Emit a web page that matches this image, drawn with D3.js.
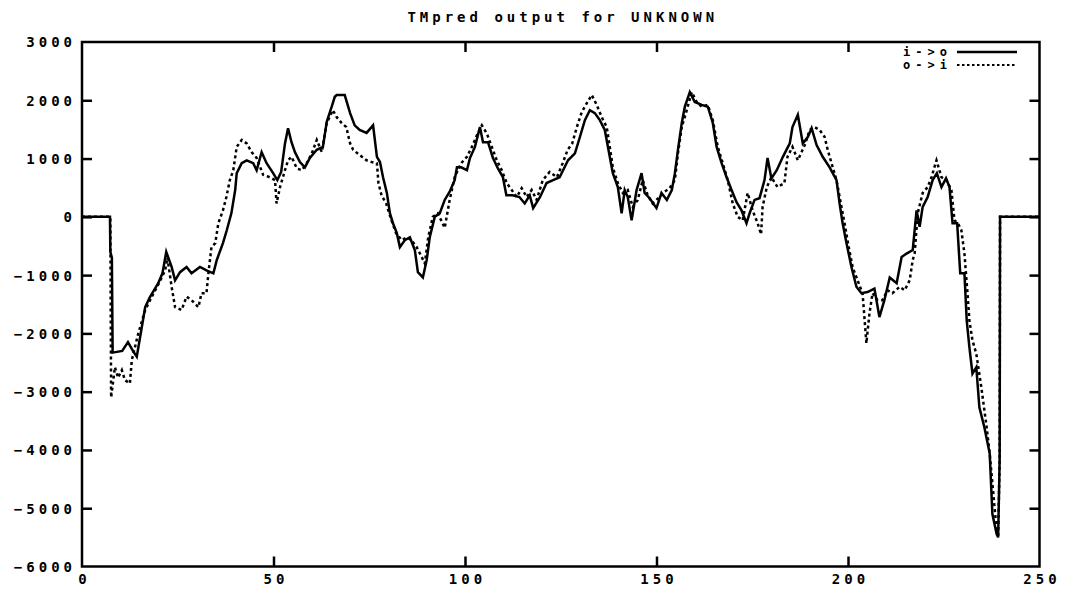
<!DOCTYPE html>
<html>
<head>
<meta charset="utf-8">
<script src="https://cdn.jsdelivr.net/npm/d3@7"></script>
<style>
  body { margin: 0; background: #fff; }
  svg text { font-family: "DejaVu Sans Mono", monospace; font-weight: bold; font-size: 14px; letter-spacing: 4px; fill: #000; }
  svg text.leg { font-size: 12px; letter-spacing: 5px; }
</style>
</head>
<body>
<div id="chart"></div>
<script>
const chartTitle = "TMpred output for UNKNOWN";
const xTicks = [0, 50, 100, 150, 200, 250];
const yTicks = [3000, 2000, 1000, 0, -1000, -2000, -3000, -4000, -5000, -6000];
const seriesNames = ["i->o", "o->i"];

// [residue, score]
const inToOut = [[0,0],[7.3,0],[7.4,-600],[7.8,-700],[8,-2330],[10.5,-2300],[12,-2150],[13.3,-2300],[14.3,-2400],[15.6,-1900],[16.5,-1550],[17.7,-1380],[19.9,-1140],[21,-970],[22,-600],[23.4,-860],[24.3,-1090],[25.6,-950],[27.3,-860],[28.6,-970],[30.8,-860],[32.5,-920],[34.3,-970],[35.2,-740],[36.8,-450],[37.8,-230],[39,60],[40,460],[40.4,750],[41.7,920],[43,970],[44.7,920],[45.6,800],[46.9,1110],[48.2,920],[49.9,750],[51,630],[52,770],[53,1260],[53.8,1520],[54.7,1280],[55.6,1110],[56.9,940],[58.2,850],[59.5,1010],[61.3,1150],[62.9,1200],[63.9,1630],[65.2,1890],[66,2060],[66.5,2090],[68.6,2090],[70,1780],[71.2,1570],[72.5,1490],[74.3,1440],[76,1570],[77,1030],[77.8,940],[78.6,680],[79.6,410],[80.4,60],[81.2,-110],[82.2,-280],[83,-520],[84.3,-400],[85.6,-350],[86.9,-570],[87.7,-950],[89,-1040],[90,-740],[90.8,-350],[92.1,0],[93.4,60],[94.7,290],[96,430],[97.3,630],[97.9,850],[99,850],[100.5,800],[101.3,1010],[102.6,1200],[103.9,1540],[104.7,1280],[106,1280],[107.3,1010],[108.6,830],[109.9,680],[110.8,370],[112.4,370],[114.2,340],[115.6,230],[116.9,370],[117.8,150],[119.6,340],[121.3,580],[123,630],[124.7,680],[126.9,970],[128.7,1090],[130,1370],[131.3,1660],[132.6,1830],[133.9,1780],[135.2,1660],[136.5,1490],[137.8,1030],[138.6,750],[139.9,510],[140.9,60],[141.7,460],[142.5,340],[143.5,-60],[144.8,460],[146.1,750],[146.9,410],[148.2,320],[150,150],[151.3,410],[152.7,290],[154,460],[154.8,750],[155.6,1150],[156.6,1610],[157.4,1890],[158.7,2140],[160,1970],[161.8,1920],[163.4,1890],[164.7,1610],[165.7,1200],[167,920],[168.3,680],[169.6,460],[170.9,250],[172.2,110],[173.5,-110],[174.3,60],[175.6,290],[176.9,320],[178.2,630],[179,1010],[180,660],[181.4,800],[183,1030],[184.8,1260],[185.5,1540],[186.9,1750],[188.2,1260],[189.5,1370],[190.5,1520],[191.8,1230],[193.4,1030],[195.2,850],[197,630],[197.8,230],[198.6,-110],[199.6,-450],[200.9,-860],[202.2,-1200],[203.5,-1310],[205.1,-1290],[206.9,-1230],[208.2,-1720],[209.5,-1430],[210.9,-1040],[212.7,-1140],[214,-690],[215.3,-630],[216.9,-570],[217.9,110],[218.7,-170],[219.5,170],[220.8,340],[222.1,630],[223.2,750],[224.4,510],[225.6,660],[226.5,510],[227.3,-110],[228.5,-110],[229.3,-970],[230.4,-970],[231,-1780],[231.7,-2240],[232.5,-2690],[233.5,-2580],[234.3,-3270],[235.6,-3610],[237,-4060],[237.7,-5100],[238.8,-5440],[239.2,-5500],[239.6,-4150],[239.7,0],[250,0]];

const outToIn = [[0,0],[7.4,0],[7.6,-3100],[8.6,-2580],[9.4,-2760],[10.4,-2630],[11.2,-2800],[12.5,-2860],[13,-2460],[14.7,-2000],[16.5,-1600],[18,-1400],[20,-1150],[21.7,-920],[22.3,-700],[23.4,-1200],[24.3,-1550],[26,-1600],[27.3,-1370],[28.6,-1430],[30.4,-1550],[31.2,-1310],[32.5,-1310],[33,-970],[33.8,-520],[34.8,-450],[35.6,-110],[36.8,110],[37.7,340],[38.6,630],[39.5,800],[40.4,1200],[41.7,1320],[43,1260],[44.3,1110],[45.6,1010],[47.3,720],[49,680],[50.4,630],[50.8,230],[51.7,510],[53,800],[53.8,970],[54.7,1030],[56.1,830],[57.4,800],[58.7,920],[60,1090],[61.3,1320],[62.6,1110],[63.9,1610],[65.5,1830],[66.5,1710],[67.8,1610],[69,1540],[70,1260],[70.8,1150],[72.5,1060],[74.3,970],[75.6,940],[77,920],[77.4,580],[78.2,370],[79.4,230],[80.8,-60],[82,-280],[83.5,-400],[84.8,-350],[86,-400],[87.4,-520],[88.7,-690],[89.5,-800],[90.4,-350],[91.6,0],[92.9,60],[94.7,-190],[96,290],[97.3,680],[99,920],[100.5,1030],[101.8,1200],[103.1,1400],[104.4,1570],[105.7,1430],[107,1200],[108.3,970],[109.6,800],[110.9,580],[112.2,460],[113.5,340],[114.8,490],[116.1,340],[117.4,460],[118.7,290],[120.3,630],[122.1,770],[124,680],[125.5,920],[126.8,1150],[128,1260],[129.2,1540],[130.5,1800],[131.8,1950],[133.1,2090],[134.4,1920],[135.7,1710],[137,1540],[137.8,1200],[138.6,850],[139.9,580],[141.2,410],[142.5,460],[143.8,170],[145.1,290],[146.4,630],[147.7,370],[149,230],[150.8,340],[152.1,430],[153.4,490],[154.8,630],[155.6,1090],[156.6,1540],[157.9,1830],[159.2,2140],[160.5,1970],[161.8,1890],[163.4,1920],[164.7,1660],[166,1200],[167.3,920],[168.6,630],[169.9,230],[171.2,0],[172.5,-60],[173.8,410],[175.1,110],[176.4,-110],[177.3,-300],[177.7,170],[178.8,510],[180,680],[181.6,510],[183.4,580],[184.2,1030],[185.5,1200],[186.9,970],[188.7,1230],[190,1490],[191.3,1540],[192.6,1490],[193.9,1370],[194.7,1150],[195.7,920],[197,630],[198.3,170],[199.1,-110],[200,-450],[201.2,-860],[202.5,-1090],[203.8,-1310],[204.8,-2170],[205.6,-1660],[206.4,-1310],[207.7,-1430],[209,-1430],[210.3,-1260],[211.6,-1310],[213.5,-1200],[214.8,-1260],[216.1,-1090],[216.9,-740],[217.4,-630],[218.2,60],[219.5,410],[220.8,510],[221.8,680],[223.1,970],[224.4,680],[225.7,630],[227,460],[227.8,-60],[228.7,-110],[229.6,-230],[230.4,-630],[231.2,-1310],[231.7,-1780],[232.5,-2120],[233.5,-2350],[234.8,-2920],[236.2,-3610],[237,-4060],[237.8,-4640],[238.8,-5380],[239.2,-5500],[239.6,-4150],[239.7,0],[250,0]];

const W = 1066, H = 590;
const margin = {left: 82, right: 26.5, top: 42, bottom: 23.5};

const svg = d3.select("#chart").append("svg").attr("width", W).attr("height", H);

const x = d3.scaleLinear().domain([0, 250]).range([margin.left, W - margin.right]);
const y = d3.scaleLinear().domain([-6000, 3000]).range([H - margin.bottom, margin.top]);

// ticks, mirrored on all four sides, pointing inward
function styleAxis(g) {
  g.select(".domain").remove();
  g.selectAll(".tick line").attr("stroke", "#000").attr("stroke-width", 2.5);
}
svg.append("g").attr("transform", "translate(" + margin.left + ",0)")
  .call(d3.axisLeft(y).tickValues(yTicks).tickSize(-10).tickPadding(10).tickFormat(d3.format("d")))
  .call(styleAxis)
  .selectAll("text").attr("dy", "0.35em").attr("dx", 4);
svg.append("g").attr("transform", "translate(" + (W - margin.right) + ",0)")
  .call(d3.axisRight(y).tickValues(yTicks).tickSize(-10).tickFormat(""))
  .call(styleAxis);
svg.append("g").attr("class", "xbottom").attr("transform", "translate(0," + (H - margin.bottom) + ")")
  .call(d3.axisBottom(x).tickValues(xTicks).tickSize(-10).tickPadding(8).tickFormat(d3.format("d")))
  .call(styleAxis)
  .selectAll("text").attr("dx", 2);
svg.append("g").attr("class", "xtop").attr("transform", "translate(0," + margin.top + ")")
  .call(d3.axisTop(x).tickValues(xTicks).tickSize(-10).tickFormat(""))
  .call(styleAxis);

// corner ticks sit on the frame itself, drop them
svg.selectAll(".tick").filter(d => d === 3000 || d === -6000).select("line").remove();
svg.selectAll(".xbottom .tick, .xtop .tick").filter(d => d === 0 || d === 250).select("line").remove();

// frame
svg.append("rect")
  .attr("x", margin.left).attr("y", margin.top)
  .attr("width", W - margin.left - margin.right)
  .attr("height", H - margin.top - margin.bottom)
  .attr("fill", "none").attr("stroke", "#000").attr("stroke-width", 2.5);

const line = d3.line().x(d => x(d[0])).y(d => y(d[1]));

svg.append("path").datum(outToIn)
  .attr("d", line).attr("fill", "none").attr("stroke", "#000")
  .attr("stroke-width", 2.5).attr("stroke-dasharray", "3,3");
svg.append("path").datum(inToOut)
  .attr("d", line).attr("fill", "none").attr("stroke", "#000")
  .attr("stroke-width", 2.5);

// title
svg.append("text").attr("x", (margin.left + W - margin.right) / 2 + 2).attr("y", 17)
  .attr("text-anchor", "middle").attr("dominant-baseline", "central")
  .text(chartTitle);

// legend
const legend = svg.append("g");
seriesNames.forEach((name, i) => {
  const ly = 52 + i * 13;
  legend.append("text").attr("class", "leg").attr("x", 952).attr("y", ly)
    .attr("text-anchor", "end").attr("dominant-baseline", "central").text(name);
  legend.append("line").attr("x1", 957).attr("x2", 1017).attr("y1", ly).attr("y2", ly)
    .attr("stroke", "#000").attr("stroke-width", i === 0 ? 2.5 : 2)
    .attr("stroke-dasharray", i === 0 ? null : "2.5,2.5");
});
</script>
</body>
</html>
